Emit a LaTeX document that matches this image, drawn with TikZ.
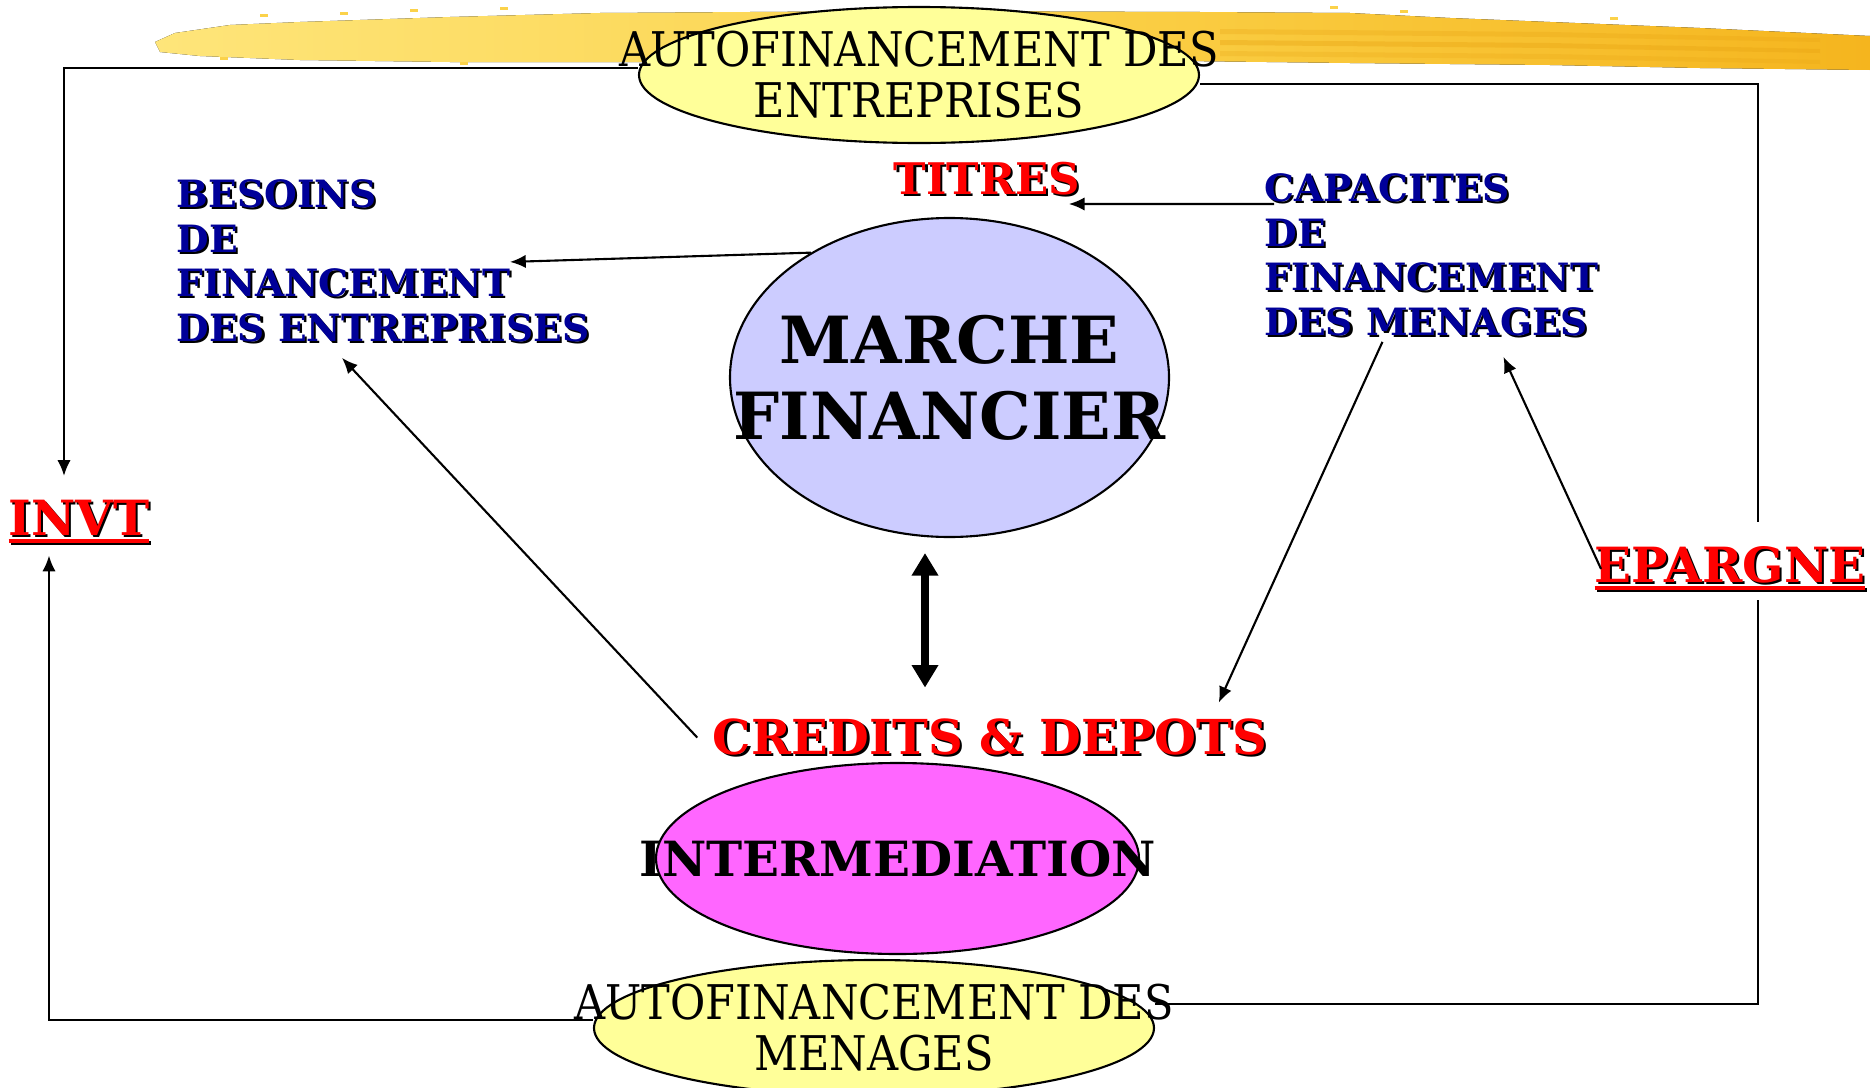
\documentclass[tikz,border=0pt]{standalone}
\usepackage{fontspec}
\setmainfont{DejaVu Serif}
\newfontfamily\narrowserif[FakeStretch=0.9]{DejaVu Serif}
\usetikzlibrary{shapes.geometric,arrows.meta}

\definecolor{navy}{HTML}{000099}
\definecolor{paleyellow}{HTML}{FFFF99}
\definecolor{lilac}{HTML}{CCCCFF}
\definecolor{pinkish}{HTML}{FF66FF}
\definecolor{brushA}{HTML}{FEE57A}
\definecolor{brushB}{HTML}{FBD24A}
\definecolor{brushC}{HTML}{F5B51E}
\definecolor{brushD}{HTML}{E9A514}

% coloured text with a dark drop shadow
\newcommand{\shad}[2]{\rlap{\kern0.6pt\raisebox{-0.6pt}{\color{black}#2}}{\color{#1}#2}}
% thick underline
\newcommand{\uword}[1]{\setbox0=\hbox{#1}\rlap{\rule[-2.2pt]{\wd0}{1pt}}\box0}

\begin{document}
\begin{tikzpicture}[>={Latex[length=4.5pt,width=3.8pt]},
  bubble/.style={ellipse,draw,line width=0.6pt,inner sep=0pt},
  conn/.style={line width=0.6pt},
  autotxt/.style={align=center,font=\narrowserif\fontsize{13.6}{14.5}\selectfont},
  navyblock/.style={anchor=north west,inner sep=0pt,align=left,font=\bfseries\fontsize{10.7}{12.7}\selectfont}]
  \useasboundingbox (0,0) rectangle (18.7,10.87);

  % yellow brush stroke along the top
  \fill[left color=brushA,right color=brushC,middle color=brushB]
    (1.55,10.45) -- (1.75,10.54) -- (2.30,10.62) -- (3.00,10.65) -- (4.50,10.70)
    -- (6.00,10.74) -- (9.00,10.76) -- (12.00,10.75) -- (13.50,10.74) -- (14.50,10.69)
    -- (16.00,10.63) -- (17.00,10.59) -- (18.70,10.51) -- (18.70,10.17) -- (17.00,10.19)
    -- (15.50,10.22) -- (13.50,10.24) -- (11.00,10.27) -- (7.00,10.25) -- (4.50,10.25)
    -- (3.00,10.27) -- (2.00,10.31) -- (1.60,10.35) -- cycle;
  \foreach \y/\a in {10.55/0.30, 10.44/0.40, 10.33/0.25}
    \fill[brushD,opacity=\a] (12.2,\y+0.03) -- (15.5,\y) -- (18.2,\y-0.06)
      -- (18.2,\y-0.10) -- (15.5,\y-0.05) -- (12.2,\y-0.02) -- cycle;
  \foreach \x/\y in {2.6/10.70, 3.4/10.72, 4.1/10.75, 5.0/10.77, 13.3/10.78, 14.0/10.74, 16.1/10.67, 2.2/10.27, 4.6/10.22}
    \fill[brushB] (\x,\y) rectangle ++(0.08,0.03);

  % the four ellipses
  \node[bubble,fill=paleyellow,minimum width=5.6cm,minimum height=1.36cm] (topauto) at (9.19,10.12) {};
  \node[bubble,fill=paleyellow,minimum width=5.6cm,minimum height=1.36cm] (botauto) at (8.74,0.59) {};
  \node[bubble,fill=lilac,minimum width=4.39cm,minimum height=3.19cm] (marche) at (9.495,7.095) {};
  \node[bubble,fill=pinkish,minimum width=4.83cm,minimum height=1.91cm] (interm) at (8.975,2.285) {};

  \node[autotxt] (topauto txt) at (topauto) {AUTOFINANCEMENT DES\\ENTREPRISES};
  \node[autotxt] (botauto txt) at (botauto) {AUTOFINANCEMENT DES\\MENAGES};
  \node[align=center,font=\bfseries\fontsize{18.5}{21.6}\selectfont] (marche txt) at (marche) {MARCHE\\FINANCIER};
  \node[font=\bfseries\fontsize{13.8}{16}\selectfont] (interm txt) at (interm) {INTERMEDIATION};

  % labels
  \node[anchor=base,inner sep=0pt,font=\bfseries\fontsize{12.4}{14}\selectfont] (titres) at (9.87,8.93) {\shad{red}{TITRES}};
  \node[anchor=base,inner sep=0pt,font=\bfseries\fontsize{13.7}{16}\selectfont] (credits) at (9.90,3.33) {\shad{red}{CREDITS \& DEPOTS}};
  \node[navyblock] (besoins) at (1.76,9.08)
    {\shad{navy}{BESOINS}\\\shad{navy}{DE}\\\shad{navy}{FINANCEMENT}\\\shad{navy}{DES ENTREPRISES}};
  \node[navyblock] (capac) at (12.64,9.14)
    {\shad{navy}{CAPACITES}\\\shad{navy}{DE}\\\shad{navy}{FINANCEMENT}\\\shad{navy}{DES MENAGES}};
  \node[anchor=base,inner sep=0pt,font=\bfseries\fontsize{13.8}{16}\selectfont] (invt) at (0.79,5.52) {\shad{red}{\uword{INVT}}};
  \node[anchor=base,inner sep=0pt,font=\bfseries\fontsize{13.8}{16}\selectfont] (epargne) at (17.30,5.05) {\shad{red}{\uword{EPARGNE}}};

  % self-financing loops
  \draw[conn,->] ([yshift=0.7mm]topauto.west) -| ([xshift=-1.5mm,yshift=2.3mm]invt.north);
  \draw[conn] ([yshift=-0.9mm]topauto.east) -| ([xshift=2.8mm,yshift=2.3mm]epargne.north);
  \draw[conn,->] ([yshift=0.8mm]botauto.west) -| ([xshift=-3mm,yshift=-1mm]invt.south);
  \draw[conn] ([yshift=2.4mm]botauto.east) -| ([xshift=2.8mm,yshift=-0.7mm]epargne.south);

  % flows between the blocks
  \draw[conn,->] (marche.138) -- ([xshift=-8mm]besoins.east);
  \draw[conn,->] ([xshift=-1.5mm]credits.west) -- ([shift={(-0.41,-0.13)}]besoins.south);
  \draw[conn,->] ([shift={(0.1,-0.31)}]capac.north west) -- ([shift={(-0.12,-0.1)}]titres.base east);
  \draw[conn,->] ([shift={(-0.49,-0.03)}]capac.south) -- ([shift={(-0.49,0.15)}]credits.north east);
  \draw[conn,->] ([xshift=0.7mm]epargne.west) -- ([shift={(0.72,-0.18)}]capac.south);
  \draw[line width=2.2pt,{Triangle[length=6.4pt,width=7.2pt]}-{Triangle[length=6.4pt,width=7.2pt]}]
    ([shift={(-0.245,-0.15)}]marche.south) -- ([shift={(-0.65,0.30)}]credits.north);
\end{tikzpicture}
\end{document}
